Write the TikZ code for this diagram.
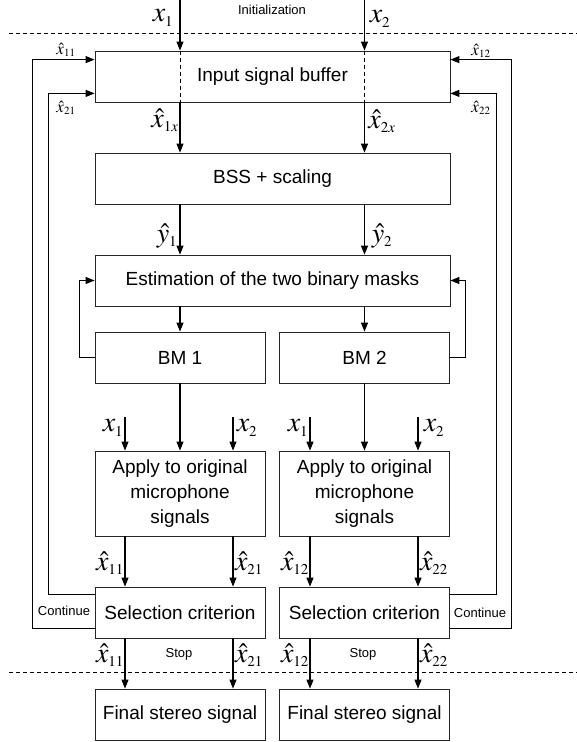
\documentclass[tikz,border=0pt]{standalone}
\usepackage{mathptmx}
\usepackage[no-math]{fontspec}
\setmainfont{Liberation Sans}
\DeclareMathSizes{28}{28}{15}{11}
\DeclareMathSizes{17}{17}{11}{8}
\usetikzlibrary{arrows.meta}
\tikzset{blk/.style={draw=black!85,line width=0.8pt,minimum height=51pt,inner sep=0pt,align=center,font=\fontsize{19}{25}\selectfont},
wide/.style={blk,minimum width=355pt},half/.style={blk,minimum width=170pt},tall/.style={minimum height=85pt},
arr/.style={-{Triangle[length=9pt,width=7pt]},line width=1.1pt},dsh/.style={line width=0.9pt,dash pattern=on 4pt off 3pt},
lab/.style={inner sep=0pt,font=\fontsize{28}{28}\selectfont},slab/.style={inner sep=0pt,font=\fontsize{17}{17}\selectfont},
note/.style={inner sep=0pt,font=\fontsize{13}{13}\selectfont}}
\begin{document}
\begin{tikzpicture}[x=1pt,y=-1pt]
\useasboundingbox (0,0) rectangle (577,742);
\node[wide](buf)at(272.5,76.5){Input signal buffer};
\node[wide](bss)at(272.5,178.5){BSS + scaling};
\node[wide](est)at(272.5,280.5){Estimation of the two binary masks};
\node[half](bm1)at(180,357.5){BM 1};
\node[half](bm2)at(364.5,357.5){BM 2};
\node[half,tall](app1)at(180,493.5){Apply to original\\microphone\\signals};
\node[half,tall](app2)at(364.5,493.5){Apply to original\\microphone\\signals};
\node[half](sel1)at(180,612.5){Selection criterion};
\node[half](sel2)at(364.5,612.5){Selection criterion};
\node[half](fin1)at(180,714.5){Final stereo signal};
\node[half](fin2)at(364.5,714.5){Final stereo signal};
\draw[dsh](9,33.5)--(577,33.5);
\draw[dsh](9,672)--(577,672);
\coordinate(in1)at(180,0);
\coordinate(in2)at(364.5,0);
\draw[arr](in1)--(bm1|-buf.north);
\draw[arr](in2)--(bm2|-buf.north);
\draw[dsh](bm1|-buf.north)--(bm1|-buf.south);
\draw[dsh](bm2|-buf.north)--(bm2|-buf.south);
\draw[arr](bm1|-buf.south)--(bm1|-bss.north);
\draw[arr](bm2|-buf.south)--(bm2|-bss.north);
\draw[arr](bm1|-bss.south)--(bm1|-est.north);
\draw[arr](bm2|-bss.south)--(bm2|-est.north);
\draw[arr](bm1|-est.south)--(bm1.north);
\draw[arr](bm2|-est.south)--(bm2.north);
\draw[arr](bm1.south)--(bm1|-app1.north);
\draw[arr](bm2.south)--(bm2|-app2.north);
\draw[arr](bm1.west)-|([xshift=-15pt]est.west)--(est.west);
\draw[arr](bm2.east)-|([xshift=15pt]est.east)--(est.east);
\coordinate(a1)at(125,417);
\coordinate(a2)at(233,417);
\coordinate(a3)at(310,417);
\coordinate(a4)at(418,417);
\draw[arr](a1)--(a1|-app1.north);
\draw[arr](a2)--(a2|-app1.north);
\draw[arr](a3)--(a3|-app2.north);
\draw[arr](a4)--(a4|-app2.north);
\draw[arr](a1|-app1.south)--(a1|-sel1.north);
\draw[arr](a2|-app1.south)--(a2|-sel1.north);
\draw[arr](a3|-app2.south)--(a3|-sel2.north);
\draw[arr](a4|-app2.south)--(a4|-sel2.north);
\draw[arr](a1|-sel1.south)--(a1|-fin1.north);
\draw[arr](a2|-sel1.south)--(a2|-fin1.north);
\draw[arr](a3|-sel2.south)--(a3|-fin2.north);
\draw[arr](a4|-sel2.south)--(a4|-fin2.north);
\draw[arr]([yshift=10pt]sel1.south west)-|([xshift=-62pt,yshift=-9pt]buf.north west)--([yshift=-9pt]buf.north west);
\draw[arr]([yshift=-8pt]sel1.north west)-|([xshift=-46pt,yshift=9pt]buf.south west)--([yshift=9pt]buf.south west);
\draw[arr]([yshift=10pt]sel2.south east)-|([xshift=61pt,yshift=-9pt]buf.north east)--([yshift=-9pt]buf.north east);
\draw[arr]([yshift=-8pt]sel2.north east)-|([xshift=46pt,yshift=9pt]buf.south east)--([yshift=9pt]buf.south east);
\node[note](init)at(272,10){Initialization};
\node[lab](x1t)at(163,18){$x_1$};
\node[lab](x2t)at(380,19){$x_2$};
\node[slab](f11)at(66,50){$\hat{x}_{11}$};
\node[slab](f21)at(66,108){$\hat{x}_{21}$};
\node[slab](f12)at(481,51){$\hat{x}_{12}$};
\node[slab](f22)at(481,108){$\hat{x}_{22}$};
\node[lab](x1x)at(165,120){$\hat{x}_{1x}$};
\node[lab](x2x)at(382,121){$\hat{x}_{2x}$};
\node[lab](y1)at(167,236){$\hat{y}_1$};
\node[lab](y2)at(382,236){$\hat{y}_2$};
\node[lab](b1)at(113,428){$x_1$};
\node[lab](b2)at(247,428){$x_2$};
\node[lab](b3)at(298,428){$x_1$};
\node[lab](b4)at(434,428){$x_2$};
\node[lab](m11)at(110,563){$\hat{x}_{11}$};
\node[lab](m21)at(249,563){$\hat{x}_{21}$};
\node[lab](m12)at(295,563){$\hat{x}_{12}$};
\node[lab](m22)at(434,563){$\hat{x}_{22}$};
\node[lab](s11)at(110,655){$\hat{x}_{11}$};
\node[lab](s21)at(249,655){$\hat{x}_{21}$};
\node[lab](s12)at(295,655){$\hat{x}_{12}$};
\node[lab](s22)at(434,655){$\hat{x}_{22}$};
\node[note](stop1)at(179,654){Stop};
\node[note](stop2)at(363,654){Stop};
\node[note](cont1)at(64,611){Continue};
\node[note](cont2)at(480,613){Continue};
\end{tikzpicture}
\end{document}
